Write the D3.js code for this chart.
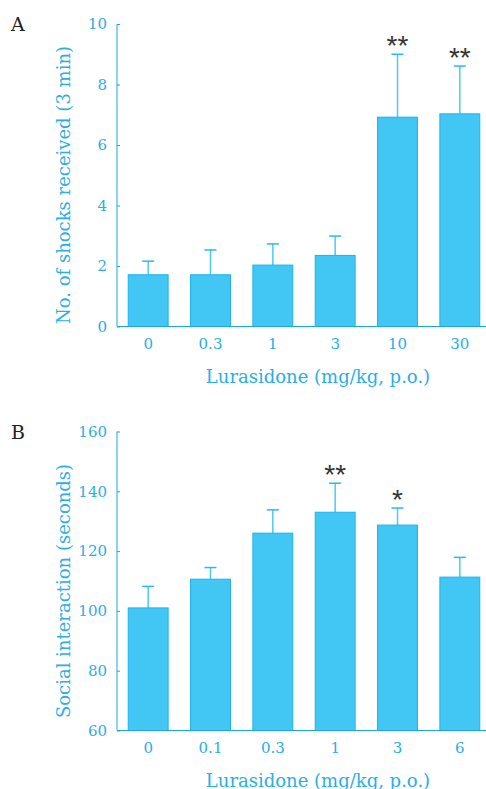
<!DOCTYPE html>
<html lang="en">
<head>
  <meta charset="UTF-8" />
  <title>Lurasidone</title>
  <script src="https://d3js.org/d3.v7.min.js"></script>
  <style>
    body { margin: 0; background: #fff; }
    svg { display: block; }
    .axis text { font-family: "DejaVu Serif", serif; font-size: 15px; fill: #2aaee6; }
    .axis path, .axis line { stroke: #1aa8e2; }
    .title { font-family: "DejaVu Serif", serif; font-size: 18px; fill: #2aaee6; }
    .panel { font-family: "DejaVu Serif", serif; font-size: 19px; fill: #222; }
    .stars { font-family: "Liberation Sans", sans-serif; font-size: 28px; fill: #333; }
  </style>
</head>
<body>
  <svg id="chart" width="486" height="789"></svg>

  <script>
    // panel A: shocks
    const dosesA = ["0", "0.3", "1", "3", "10", "30"];
    const meanA = [1.71, 1.71, 2.03, 2.35, 6.92, 7.03];
    const errA = [2.16, 2.53, 2.73, 2.99, 9.0, 8.61];
    const starsA = ["", "", "", "", "**", "**"];
    const ticksA = [0, 2, 4, 6, 8, 10];

    // panel B: social interaction
    const dosesB = ["0", "0.1", "0.3", "1", "3", "6"];
    const meanB = [101.0, 110.6, 126.0, 133.0, 128.7, 111.3];
    const errB = [108.2, 114.5, 133.8, 142.7, 134.4, 117.9];
    const starsB = ["", "", "", "**", "*", ""];
    const ticksB = [60, 80, 100, 120, 140, 160];

    const svg = d3.select("#chart");

    function drawPanel(opts) {
      const g = svg.append("g");
      const x = d3.scaleBand()
        .domain(opts.doses)
        .range([117, 491])
        .paddingInner(0.36)
        .paddingOuter(0.18);
      const y = d3.scaleLinear()
        .domain(opts.domain)
        .range([opts.bottom, opts.top]);

      const data = opts.doses.map((d, i) => ({
        dose: d, mean: opts.mean[i], err: opts.err[i], stars: opts.stars[i]
      }));

      // error bars (upper only)
      g.selectAll(".err")
        .data(data)
        .enter().append("g")
        .each(function(d) {
          const cx = x(d.dose) + x.bandwidth() / 2;
          const sel = d3.select(this);
          sel.append("line")
            .attr("x1", cx).attr("x2", cx)
            .attr("y1", y(d.mean)).attr("y2", y(d.err))
            .attr("stroke", "#4fc9f4").attr("stroke-width", 1.5);
          sel.append("line")
            .attr("x1", cx - 6).attr("x2", cx + 6)
            .attr("y1", y(d.err)).attr("y2", y(d.err))
            .attr("stroke", "#2ab8ee").attr("stroke-width", 1.5);
        });

      g.selectAll("rect")
        .data(data)
        .enter().append("rect")
        .attr("x", d => x(d.dose))
        .attr("y", d => y(d.mean))
        .attr("width", x.bandwidth())
        .attr("height", d => y(opts.domain[0]) - y(d.mean))
        .attr("fill", "#42c7f4")
        .attr("stroke", "#1cb2ea")
        .attr("stroke-width", 1);

      g.selectAll(".stars")
        .data(data.filter(d => d.stars))
        .enter().append("text")
        .attr("class", "stars")
        .attr("x", d => x(d.dose) + x.bandwidth() / 2)
        .attr("y", d => y(d.err) + 1)
        .attr("text-anchor", "middle")
        .text(d => d.stars);

      // y axis
      g.append("g")
        .attr("class", "axis")
        .attr("transform", "translate(117,0)")
        .call(d3.axisLeft(y).tickValues(opts.ticks).tickSize(-3).tickPadding(10))
        .call(a => a.select(".domain").attr("d", `M0,${opts.bottom}V${opts.top}`));

      // x axis
      g.append("g")
        .attr("class", "axis")
        .attr("transform", `translate(0,${opts.bottom})`)
        .call(d3.axisBottom(x).tickSize(0).tickPadding(12))
        .call(a => a.select(".domain").attr("d", "M117,0H486"));

      g.append("text")
        .attr("class", "title")
        .attr("x", 318)
        .attr("y", opts.bottom + 56)
        .attr("text-anchor", "middle")
        .text("Lurasidone (mg/kg, p.o.)");

      g.append("text")
        .attr("class", "title")
        .attr("transform", `translate(64,${opts.ymid}) rotate(-90)`)
        .attr("dy", "0.35em")
        .attr("text-anchor", "middle")
        .text(opts.ytitle);

      g.append("text")
        .attr("class", "panel")
        .attr("x", 11)
        .attr("y", opts.labelY)
        .text(opts.label);
    }

    drawPanel({
      doses: dosesA, mean: meanA, err: errA, stars: starsA, ticks: ticksA,
      domain: [0, 10], top: 24, bottom: 326.5, ymid: 185, labelY: 31,
      ytitle: "No. of shocks received (3 min)", label: "A"
    });

    drawPanel({
      doses: dosesB, mean: meanB, err: errB, stars: starsB, ticks: ticksB,
      domain: [60, 160], top: 431.5, bottom: 730.5, ymid: 591, labelY: 439,
      ytitle: "Social interaction (seconds)", label: "B"
    });
  </script>
</body>
</html>
